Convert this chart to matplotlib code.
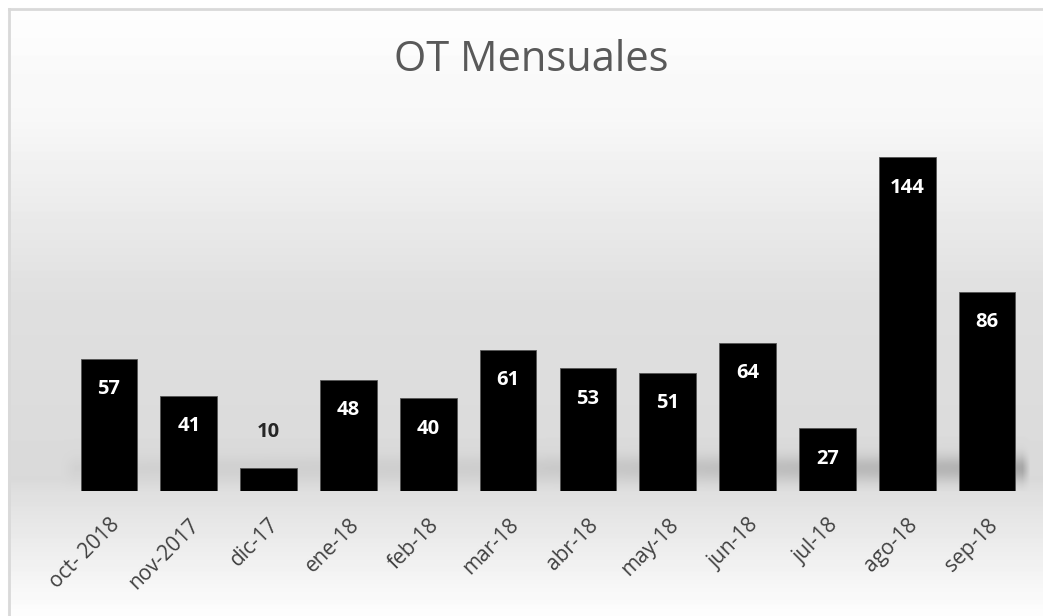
import numpy as np
import matplotlib.pyplot as plt
from matplotlib.lines import Line2D

months = ['oct- 2018', 'nov-2017', 'dic-17', 'ene-18', 'feb-18', 'mar-18',
          'abr-18', 'may-18', 'jun-18', 'jul-18', 'ago-18', 'sep-18']
ot_counts = [57, 41, 10, 48, 40, 61, 53, 51, 64, 27, 144, 86]

W, H = 1043, 616
fig = plt.figure(figsize=(W / 100, H / 100), dpi=100)

# background: white -> light gray towards the floor, then back to white
yy = np.arange(H, dtype=float)
xx = np.arange(W, dtype=float)
g = np.interp(yy, [8, 120, 300, 480, 495, 610], [0.995, 0.97, 0.875, 0.855, 0.88, 0.99])
bg = np.tile(g[:, None], (1, W))
# soft floor shadow behind the bars, darker on the right
shade = np.interp(xx, [60, 75, 500, 1000, 1022, 1030], [0.0, 0.03, 0.05, 0.16, 0.2, 0.0])
band = np.exp(-((yy - 468) / 13.0) ** 2)
band[yy > 490] = 0
bg = bg - shade[None, :] * band[:, None]
bg[:8, :] = 1.0
bg[:, :8] = 1.0
bg_ax = fig.add_axes([0, 0, 1, 1])
bg_ax.imshow(bg, cmap='gray', vmin=0, vmax=1, aspect='auto', interpolation='bilinear')
bg_ax.axis('off')

# chart frame (left and top edges visible)
fig.add_artist(Line2D([8.5 / W, 8.5 / W], [0, 1 - 8.5 / H], transform=fig.transFigure,
                      color='#d9d9d9', lw=2))
fig.add_artist(Line2D([8.5 / W, 1], [1 - 8.5 / H, 1 - 8.5 / H], transform=fig.transFigure,
                      color='#d9d9d9', lw=2))

ax = fig.add_axes([69 / W, (H - 491) / H, (1027 - 69) / W, 371 / H])
ax.patch.set_alpha(0)
x = np.arange(len(months))
bars = ax.bar(x, ot_counts, width=0.71, color='black', edgecolor='#555555', linewidth=0.6)
ax.set_xlim(-0.5, len(months) - 0.5)
ax.set_ylim(0, 160)

for b, v in zip(bars, ot_counts):
    cx = b.get_x() + b.get_width() / 2
    if v < 20:
        ax.annotate(str(v), (cx, v), xytext=(0, 26), textcoords='offset points',
                    ha='center', va='center', color='#262626', fontsize=14.5,
                    fontweight='bold', family='Open Sans')
    else:
        ax.annotate(str(v), (cx, v), xytext=(0, -22), textcoords='offset points',
                    ha='center', va='center', color='white', fontsize=14.5,
                    fontweight='bold', family='Open Sans')

ax.set_xticks(x)
ax.set_xticklabels(months, rotation=45, ha='right', rotation_mode='anchor',
                   fontsize=15, color='#404040', family='Open Sans')
ax.tick_params(axis='x', length=0, pad=17)
ax.set_yticks([])
for s in ax.spines.values():
    s.set_visible(False)

fig.text(531 / W, 1 - 60 / H, 'OT Mensuales', ha='center', va='center',
         fontsize=30, color='#595959', family='Open Sans')

fig.savefig('out.png', dpi=100)
